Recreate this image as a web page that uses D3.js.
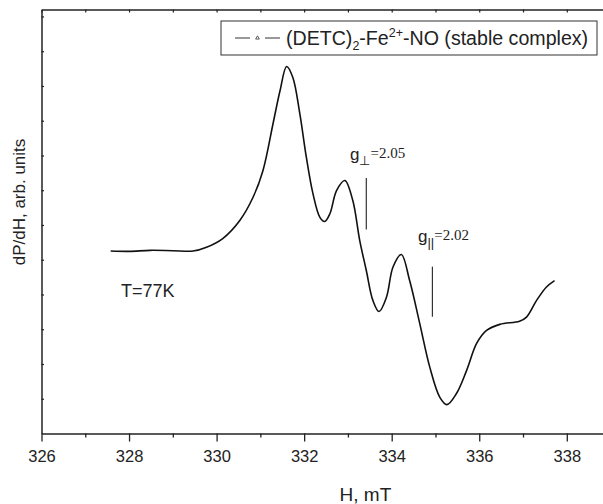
<!DOCTYPE html>
<html>
<head>
<meta charset="utf-8">
<script src="https://cdn.jsdelivr.net/npm/d3@7"></script>
<style>
  body { margin: 0; background: #fff; }
  svg { display: block; }
  text { font-family: "Liberation Sans", Arial, sans-serif; fill: #222; }
  .serif { font-family: "Liberation Serif", "Times New Roman", serif; }
</style>
</head>
<body>
<svg id="chart"></svg>
<script>
var width = 603,
    height = 504;

// EPR spectrum
var field = [327.58, 328.0, 328.48, 329.0, 329.46, 329.77, 330.14, 330.53, 330.83, 331.06, 331.29, 331.45, 331.60,
    331.74, 331.90, 332.05, 332.20, 332.36, 332.47, 332.59, 332.74, 332.93, 333.11, 333.27, 333.42, 333.57,
    333.71, 333.88, 334.03, 334.22, 334.41, 334.64, 334.87, 335.10, 335.26, 335.48, 335.71, 335.94, 336.16,
    336.47, 336.92, 337.08, 337.31, 337.53, 337.72];
var signal = [5.25, 5.24, 5.27, 5.26, 5.25, 5.36, 5.61, 6.13, 6.79, 7.57, 8.92, 9.87, 10.56,
    10.25, 9.21, 7.95, 6.91, 6.22, 6.10, 6.33, 6.99, 7.28, 6.71, 5.55, 4.69, 3.83,
    3.51, 3.92, 4.79, 5.15, 4.40, 3.17, 1.91, 1.04, 0.83, 1.15, 1.81, 2.59, 2.96,
    3.14, 3.23, 3.35, 3.83, 4.21, 4.40];

var xMajor = [326, 328, 330, 332, 334, 336, 338];
var xMinor = [327, 329, 331, 333, 335, 337];
var xTop = d3.range(326, 339);
var yTicks = d3.range(1, 13);

var x = d3.scaleLinear().domain([326, 338.85]).range([41.5, 604]);
var y = d3.scaleLinear().domain([0, 12.2]).range([433.5, 9.5]);

var svg = d3.select('#chart')
    .attr('width', width)
    .attr('height', height);

// bottom axis: labelled majors, short minors
svg.append('g')
    .attr('transform', 'translate(0,' + y(0) + ')')
    .call(d3.axisBottom(x).tickValues(xMajor).tickSize(8).tickSizeOuter(0).tickFormat(d3.format('d')))
    .call(function (g) {
        g.select('.domain').attr('stroke', '#222').attr('stroke-width', 1.5);
        g.selectAll('.tick line').attr('stroke', '#222').attr('stroke-width', 1.3);
        g.selectAll('.tick text').attr('dy', '1.05em').style('font-size', '16.5px').style('font-family', '"Liberation Sans", Arial, sans-serif').attr('fill', '#222');
    });

svg.append('g')
    .attr('transform', 'translate(0,' + y(0) + ')')
    .call(d3.axisBottom(x).tickValues(xMinor).tickSize(4).tickFormat(''))
    .call(function (g) {
        g.select('.domain').remove();
        g.selectAll('.tick line').attr('stroke', '#222').attr('stroke-width', 1.3);
    });

// top mirror axis, ticks inward
svg.append('g')
    .attr('transform', 'translate(0,' + y(12.2) + ')')
    .call(d3.axisTop(x).tickValues(xTop).tickSize(-3).tickSizeOuter(0).tickFormat(''))
    .call(function (g) {
        g.select('.domain').attr('stroke', '#222').attr('stroke-width', 1.5);
        g.selectAll('.tick line').attr('stroke', '#222').attr('stroke-width', 1.2);
    });

// left axis, no labels, ticks inward
svg.append('g')
    .attr('transform', 'translate(' + x(326) + ',0)')
    .call(d3.axisLeft(y).tickValues(yTicks).tickSize(-2.5).tickSizeOuter(0).tickFormat(''))
    .call(function (g) {
        g.select('.domain').attr('stroke', '#222').attr('stroke-width', 1.5);
        g.selectAll('.tick line').attr('stroke', '#222').attr('stroke-width', 1.2);
    });

// spectrum
var line = d3.line()
    .x(function (d) { return x(d[0]); })
    .y(function (d) { return y(d[1]); })
    .curve(d3.curveCatmullRom.alpha(0.5));

svg.append('path')
    .datum(d3.zip(field, signal))
    .attr('d', line)
    .attr('fill', 'none')
    .attr('stroke', '#111')
    .attr('stroke-width', 1.6);

// axis titles
svg.append('text')
    .attr('x', x(333.4))
    .attr('y', 501)
    .attr('text-anchor', 'middle')
    .style('font-size', '19px')
    .text('H, mT');

svg.append('text')
    .attr('transform', 'translate(25,202)rotate(-90)')
    .attr('text-anchor', 'middle')
    .style('font-size', '17px')
    .text('dP/dH, arb. units');

svg.append('text')
    .attr('x', 121)
    .attr('y', 297)
    .style('font-size', '18px')
    .text('T=77K');

// legend
var legend = svg.append('g');
legend.append('rect')
    .attr('x', 221).attr('y', 21)
    .attr('width', 376).attr('height', 34)
    .attr('fill', '#fff')
    .attr('stroke', '#333').attr('stroke-width', 1);
legend.append('line').attr('x1', 235).attr('x2', 250).attr('y1', 38).attr('y2', 38).attr('stroke', '#333');
legend.append('line').attr('x1', 265).attr('x2', 280).attr('y1', 38).attr('y2', 38).attr('stroke', '#333');
legend.append('path')
    .attr('d', d3.symbol(d3.symbolTriangle, 6)())
    .attr('transform', 'translate(257.5,38)')
    .attr('fill', 'none').attr('stroke', '#333').attr('stroke-width', 0.8);

var lt = legend.append('text').attr('x', 286).attr('y', 45).style('font-size', '19.6px');
lt.append('tspan').text('(DETC)');
lt.append('tspan').attr('dy', 5).style('font-size', '12.5px').text('2');
lt.append('tspan').attr('dy', -5).text('-Fe');
lt.append('tspan').attr('dy', -8).style('font-size', '12.5px').text('2+');
lt.append('tspan').attr('dy', 8).text('-NO (stable complex)');

// g-factor markers
function gMark(xVal, tx, ty, sub, label, y1, y2) {
    var t = svg.append('text').attr('x', tx).attr('y', ty).style('font-size', '17px');
    t.append('tspan').text('g');
    t.append('tspan').attr('dy', 5).style('font-size', '13px').text(sub);
    t.append('tspan').attr('class', 'serif').attr('dy', -7).style('font-size', '15px').text(label);
    svg.append('line')
        .attr('x1', x(xVal)).attr('x2', x(xVal))
        .attr('y1', y(y1)).attr('y2', y(y2))
        .attr('stroke', '#333').attr('stroke-width', 1.2);
}
gMark(333.42, 350, 160, '\u22a5', '=2.05', 7.35, 5.87);
gMark(334.93, 418, 242, '||', '=2.02', 4.8, 3.36);
</script>
</body>
</html>
